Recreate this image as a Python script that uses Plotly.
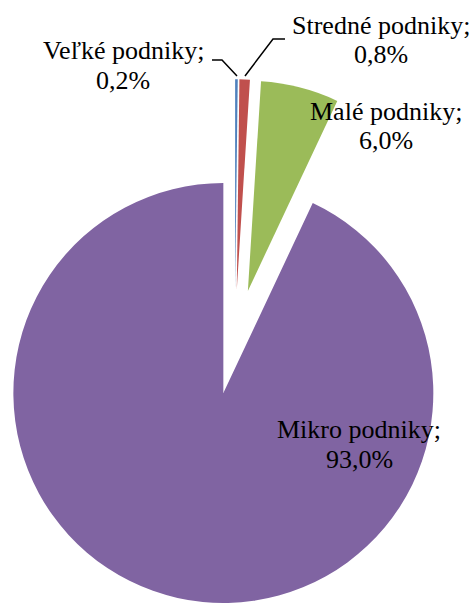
import math
import plotly.graph_objects as go

# ---- data ----
labels = ["Veľké podniky", "Stredné podniky", "Malé podniky", "Mikro podniky"]
values = [0.2, 0.8, 6.0, 93.0]
pct_text = ["0,2%", "0,8%", "6,0%", "93,0%"]
colors = ["#4F81BD", "#C0504D", "#9BBB59", "#8064A2"]

# ---- layout / style ----
W, H = 475, 603
R = 210.0              # pie radius (px)
CX, CY = 234.8, 341.8  # centre of the un-exploded pie (px)
EXPLODE = 0.25         # explosion as fraction of radius
FONT = "Liberation Serif, Times New Roman, serif"
FS = 26

fig = go.Figure()
total = sum(values)
cum = 0.0
for i, v in enumerate(values):
    mid = (cum + v / 2) / total * 2 * math.pi
    cum += v
    vx = CX + EXPLODE * R * math.sin(mid)
    vy = CY - EXPLODE * R * math.cos(mid)
    x0 = max(0.0, (vx - R) / W)
    x1 = min(1.0, (vx + R) / W)
    y0 = max(0.0, 1 - (vy + R) / H)
    y1 = min(1.0, 1 - (vy - R) / H)
    cols = ["rgba(0,0,0,0)"] * len(values)
    cols[i] = colors[i]
    fig.add_trace(go.Pie(
        labels=labels, values=values, sort=False, direction="clockwise",
        rotation=0, marker=dict(colors=cols, line=dict(width=0)),
        textinfo="none", hoverinfo="label+percent", showlegend=False,
        domain=dict(x=[x0, x1], y=[y0, y1]),
    ))

# label positions: (centre x, baseline line 1, baseline line 2) in px
label_pos = [(123, 59.5, 89), (381, 34.5, 63.5), (385.5, 120.5, 149), (359, 438.5, 468.5)]
for (lx, b1, b2), lab, pt in zip(label_pos, labels, pct_text):
    for txt, b in ((lab + ";", b1), (pt, b2)):
        fig.add_annotation(
            x=lx / W, y=1 - (b - 0.3375 * FS) / H, xref="paper", yref="paper",
            text=txt, showarrow=False,
            font=dict(family=FONT, size=FS, color="black"),
            xanchor="center", yanchor="middle", align="center",
        )

# leader lines
leaders = [
    [(212, 60), (222, 60), (237, 76)],
    [(285, 39), (273, 39), (245, 76)],
]
for pts in leaders:
    path = "M " + " L ".join(f"{x / W},{1 - y / H}" for x, y in pts)
    fig.add_shape(type="path", path=path, xref="paper", yref="paper",
                  line=dict(color="black", width=1.5))

fig.update_layout(
    width=W, height=H, margin=dict(l=0, r=0, t=0, b=0),
    paper_bgcolor="white", plot_bgcolor="white",
)
fig.write_html("out.html")
